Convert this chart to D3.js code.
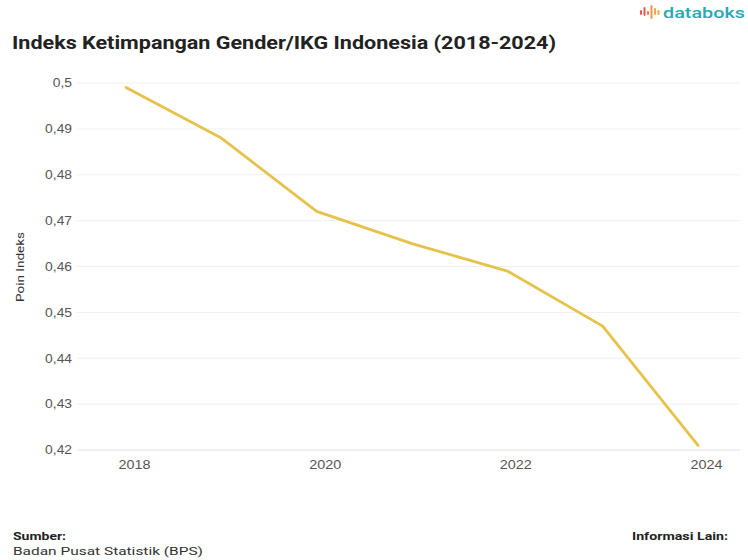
<!DOCTYPE html>
<html><head><meta charset="utf-8">
<script src="https://cdn.jsdelivr.net/npm/d3@7"></script>
<style>body{margin:0;background:#fff}svg{display:block;font-family:Roboto,"Noto Sans",sans-serif}</style>
</head><body><svg id="c" width="748" height="560"></svg>
<script>
const years = [2018, 2019, 2020, 2021, 2022, 2023, 2024];
const values = [0.499, 0.488, 0.472, 0.465, 0.459, 0.447, 0.421];
const yTicks = [0.42, 0.43, 0.44, 0.45, 0.46, 0.47, 0.48, 0.49, 0.5];
const xTicks = [2018, 2020, 2022, 2024];

const svg = d3.select("#c");
const x = d3.scaleLinear().domain([2018, 2024]).range([126, 698]);
const y = d3.scaleLinear().domain([0.42, 0.5]).range([450, 83]);
const fmt = v => String(v).replace(".", ",");

function stretch(sel, k){
  sel.each(function(){
    const w = this.getComputedTextLength();
    d3.select(this).attr("textLength", (w * k).toFixed(1)).attr("lengthAdjust","spacingAndGlyphs");
  });
}
function fitTo(sel, target){
  sel.attr("textLength", target).attr("lengthAdjust","spacingAndGlyphs");
}

// grid
svg.append("g").selectAll("line").data(yTicks).join("line")
  .attr("x1",77).attr("x2",740).attr("y1",d=>y(d)).attr("y2",d=>y(d))
  .attr("stroke",d=>d===0.42?"#e2e2e2":"#f0f0f0").attr("stroke-width",1);
const ga = svg.append("g").attr("transform","translate(72,0)")
  .call(d3.axisLeft(y).tickValues(yTicks).tickSize(0).tickFormat(fmt).tickPadding(0));
ga.select(".domain").remove();
ga.selectAll("text").attr("fill","#555").attr("font-size",12);
stretch(ga.selectAll("text"), 1.15);

const xa = svg.append("g").attr("transform","translate(0,450)")
  .call(d3.axisBottom(x).tickValues(xTicks).tickFormat(d3.format("d")).tickSize(0).tickPadding(10));
xa.select(".domain").remove();
xa.selectAll("text").attr("fill","#555").attr("font-size",12).attr("dx",8);
stretch(xa.selectAll("text"), 1.2);

const yl = svg.append("text").attr("transform","translate(24,267) rotate(-90)")
  .attr("text-anchor","middle").attr("font-size",11).attr("fill","#333").text("Poin Indeks");
fitTo(yl, 70);

// line
svg.append("path").datum(values)
  .attr("d", d3.line().x((d,i)=>x(years[i])).y(d=>y(d)))
  .attr("fill","none").attr("stroke","#E6C24B").attr("stroke-width",2.8)
  .attr("stroke-linejoin","round").attr("stroke-linecap","round");

// title
const t = svg.append("text").attr("x",12).attr("y",49).attr("font-size",17.5).attr("font-weight",700)
  .attr("fill","#222").text("Indeks Ketimpangan Gender/IKG Indonesia (2018-2024)");
fitTo(t, 544);

// logo
const lg = svg.append("g").attr("transform","translate(640,5)");
[[0,5,5,"#ec5a4f"],[3.5,2,9,"#ec5a4f"],[7,6,4,"#ef7a4e"],[10.5,0,14,"#f2944c"],[14,3,7,"#f4a64b"],[17.5,5,5,"#f4a64b"]].forEach(([dx,dy,h,c])=>{
  lg.append("rect").attr("x",dx).attr("y",dy).attr("width",2).attr("height",h).attr("rx",1).attr("fill",c);
});
const lt = svg.append("text").attr("x",663).attr("y",18).attr("font-size",15.5)
  .attr("font-weight",500).attr("fill","#2aa7b4").text("databoks");
fitTo(lt, 82);

// footer
const s1 = svg.append("text").attr("x",13).attr("y",540).attr("font-size",11).attr("font-weight",700).attr("fill","#222").text("Sumber:");
fitTo(s1, 53);
const s2 = svg.append("text").attr("x",13).attr("y",555).attr("font-size",11.5).attr("fill","#333").text("Badan Pusat Statistik (BPS)");
fitTo(s2, 190);
const s3 = svg.append("text").attr("x",632).attr("y",540).attr("font-size",11).attr("font-weight",700).attr("fill","#222").text("Informasi Lain:");
fitTo(s3, 96);
</script></body></html>
